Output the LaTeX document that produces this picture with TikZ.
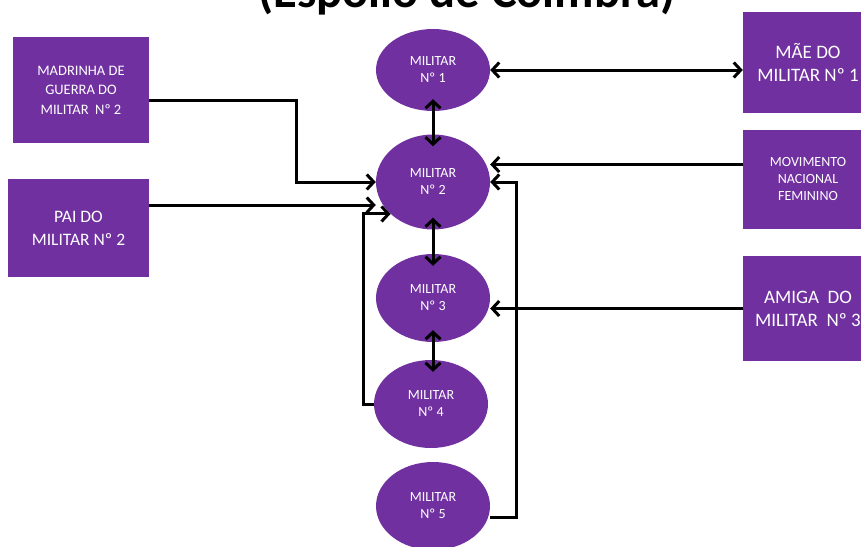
\documentclass[tikz,border=0pt]{standalone}
\usepackage{fontspec}
\setmainfont{Carlito}
\usetikzlibrary{shapes.geometric,arrows.meta}
\definecolor{roxo}{HTML}{7030A0}

\begin{document}
\begin{tikzpicture}[x=1pt,y=-1pt,
    caixa/.style={fill=roxo,text=white,align=center,inner sep=0pt},
    militar/.style={ellipse,fill=roxo,text=white,align=center,inner sep=0pt,
      minimum width=114pt,minimum height=88pt,font=\fontsize{14}{17}\selectfont},
    seta/.style={line width=3pt,>={Straight Barb[length=7pt,width=15pt]}},
    dentro/.style={shorten <=-12pt,shorten >=-12pt}]
      \clip (0,0) rectangle (861,546);
      \node[anchor=base,font=\bfseries\fontsize{48.5}{48.5}\selectfont] (titulo) at (467,7) {(Espólio de Coimbra)};
      \node[militar,minimum height=82pt] (m1) at (433,70) {MILITAR\\Nº 1};
      \node[militar,minimum height=95pt] (m2) at (433,182) {MILITAR\\Nº 2};
      \node[militar] (m3) at (433,298) {MILITAR\\Nº 3};
      \node[militar] (m4) at (431,404) {MILITAR\\Nº 4};
      \node[militar] (m5) at (433,506) {MILITAR\\Nº 5};
      \node[caixa,minimum width=136pt,minimum height=106pt,font=\fontsize{14.5}{19.5}\selectfont] (madrinha) at (81,90) {MADRINHA DE\\GUERRA DO\\MILITAR \ Nº 2};
      \node[caixa,minimum width=141pt,minimum height=98pt,font=\fontsize{17.5}{23}\selectfont] (pai) at (78.5,228) {PAI DO\\MILITAR Nº 2};
      \node[caixa,minimum width=130pt,minimum height=101pt,font=\fontsize{19}{23}\selectfont] (mae) at (808,62.5) {MÃE DO\\MILITAR Nº 1};
      \node[caixa,minimum width=130pt,minimum height=99pt,font=\fontsize{14}{17}\selectfont] (mnf) at (808,179.5) {MOVIMENTO\\NACIONAL\\FEMININO};
      \node[caixa,minimum width=130pt,minimum height=105pt,font=\fontsize{19}{23}\selectfont] (amiga) at (808,308.5) {AMIGA \ DO\\MILITAR \ Nº 3};
      \draw[seta,<->] (m1.east) -- (m1.east -| mae.west);
      \draw[seta,<->,dentro] (m1.south) -- (m2.north);
      \draw[seta,<->,dentro] (m2.south) -- (m3.north);
      \draw[seta,<->,dentro] (m3.south) -- (m3.south |- m4.north);
      \draw[seta,->] ([yshift=-10pt]madrinha.east) -- ++(147,0) |- (m2.west);
      \draw[seta,->] ([yshift=23pt]pai.east) -- ([yshift=23pt]pai.east -| m2.west);
      \draw[seta,->] (m4.west) -- ++(-10,0) |- (m2.217);
      \draw[seta,->] ([yshift=15pt]mnf.west) -- ([yshift=15pt]mnf.west -| m2.east);
      \draw[seta,->] ([yshift=-11pt]m5.east) -- ++(26,0) |- (m2.east);
      \draw[seta,->] (amiga.west) -- (amiga.west -| m3.east);
    \end{tikzpicture}
\end{document}
